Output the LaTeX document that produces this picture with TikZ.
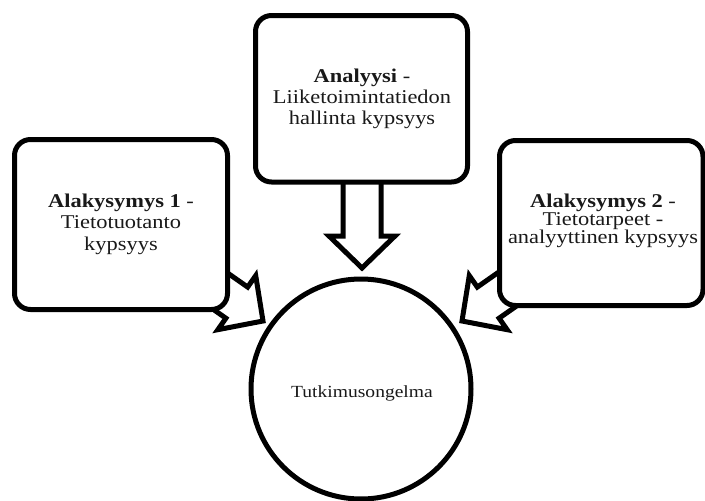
\documentclass[tikz,border=0pt]{standalone}
\usepackage{fontspec}
\setmainfont{Liberation Serif}[FakeStretch=1.15]
\begin{document}
\begin{tikzpicture}[x=1pt,y=-1pt,
  outline/.style={draw=black,line width=5pt,fill=white},
  boxshape/.style={outline,rounded corners=16pt},
  blockarrow/.style={outline,line join=miter,miter limit=10},
  boxtext/.style={align=center,text=black!90,inner sep=0pt},
]
\useasboundingbox (0,0) rectangle (705,501);

% block arrows (tip at origin, pointing along +x), drawn first so boxes cover their tails
\tikzset{arrowpath/.pic={
  \path[blockarrow] (0,0) -- (-32,33) -- (-32,19) -- (-110,19) -- (-110,-19)
     -- (-32,-19) -- (-32,-33) -- cycle;
}}
\pic (arrowL) at (263,321) [rotate=-35] {arrowpath};
\pic (arrowR) at (462,321) [rotate=-145] {arrowpath};
\pic (arrowT) at (362,268) [rotate=-90] {arrowpath};

% boxes
\draw[boxshape] (14.5,139.5) rectangle (227.5,309.5);
\draw[boxshape] (255.5,15.5) rectangle (467.5,182);
\draw[boxshape] (499.5,140.5) rectangle (703,305.5);

\node[boxtext,font=\fontsize{19.5}{21.5}\selectfont] (q1) at (121,224)
  {\textbf{Alakysymys 1} -\\Tietotuotanto\\kypsyys};
\node[boxtext,font=\fontsize{19.5}{21}\selectfont] (an) at (362,99)
  {\textbf{Analyysi} -\\Liiketoimintatiedon\\hallinta kypsyys};
\node[boxtext,font=\fontsize{19.5}{18}\selectfont] (q2) at (603,221)
  {\textbf{Alakysymys 2} -\\Tietotarpeet -\\analyyttinen kypsyys};

% research problem
\draw[outline] (361,389) circle (110);
\node[boxtext,font=\fontsize{17}{20}\selectfont] (rp) at (362,393) {Tutkimusongelma};
\end{tikzpicture}
\end{document}
